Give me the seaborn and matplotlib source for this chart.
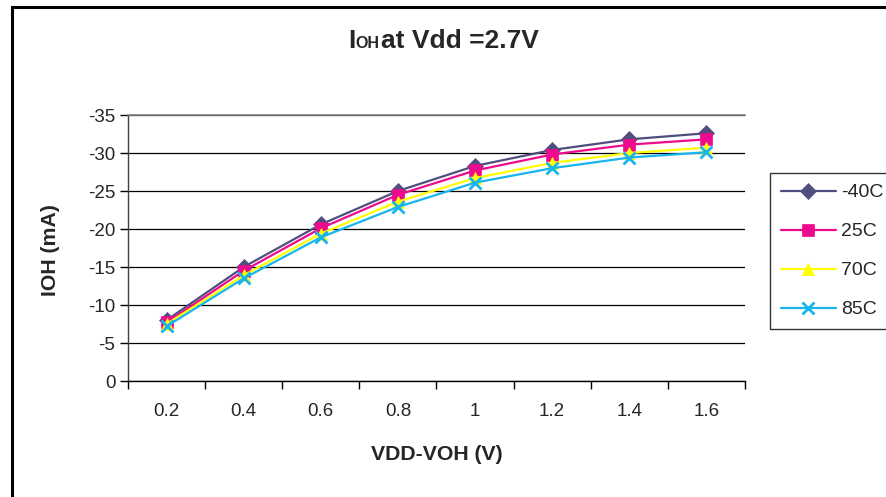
import matplotlib
matplotlib.use("Agg")
import matplotlib.pyplot as plt
from matplotlib.patches import Rectangle
from matplotlib.ticker import FixedLocator
import seaborn as sns
import pandas as pd

# ---- data ----
categories = ["0.2", "0.4", "0.6", "0.8", "1", "1.2", "1.4", "1.6"]
series_names = ["-40C", "25C", "70C", "85C"]
ioh_m40 = [-8.0, -15.0, -20.6, -25.0, -28.3, -30.4, -31.8, -32.6]
ioh_25 = [-7.7, -14.5, -20.1, -24.5, -27.7, -29.8, -31.1, -31.8]
ioh_70 = [-7.5, -13.9, -19.4, -23.6, -26.7, -28.7, -30.0, -30.7]
ioh_85 = [-7.2, -13.5, -18.9, -22.9, -26.1, -28.0, -29.4, -30.1]
y_ticks = [0, -5, -10, -15, -20, -25, -30, -35]

colors = ["#4F4F7F", "#EE0A8C", "#FFFF00", "#18B4EE"]
markers = ["D", "s", "^", "x"]

sns.set_style("white")
plt.rcParams["font.family"] = ["Liberation Sans", "DejaVu Sans"]

W, H = 886, 497
fig = plt.figure(figsize=(W / 100, H / 100), dpi=100)
ax = fig.add_axes([128 / W, 1 - 381 / H, (745 - 128) / W, (381 - 115) / H])

positions = list(range(len(categories)))
for name, vals, c, m in zip(series_names, [ioh_m40, ioh_25, ioh_70, ioh_85], colors, markers):
    df = pd.DataFrame({"pos": positions, "ioh": vals})
    sns.lineplot(data=df, x="pos", y="ioh", color=c, marker=m, linewidth=1.6,
                 markersize=9 if m == "x" else 8.5,
                 markeredgecolor=c, markerfacecolor=c,
                 markeredgewidth=2.0 if m == "x" else 0.5, ax=ax, label=name, legend=False)

ax.set_xlim(-0.5, len(categories) - 0.5)
ax.set_ylim(0, -35)
ax.set_xticks(positions)
ax.set_xticklabels(categories)
ax.xaxis.set_minor_locator(FixedLocator([i - 0.5 for i in range(len(categories) + 1)]))
ax.tick_params(axis="x", which="major", length=0, pad=16, labelsize=13.5)
ax.tick_params(axis="x", which="minor", length=6, width=1, direction="out", color="black", bottom=True)
ax.set_yticks(y_ticks)
ax.set_yticklabels([str(v) for v in y_ticks])
ax.tick_params(axis="y", length=6, width=1, direction="out", color="black", left=True, pad=3, labelsize=13.5)
ax.yaxis.grid(True, color="black", linewidth=0.9)
ax.set_axisbelow(True)
ax.spines["right"].set_visible(False)
ax.spines["top"].set_color("#808080")
ax.spines["top"].set_linewidth(1.2)
ax.spines["left"].set_color("#404040")
ax.spines["bottom"].set_color("black")
ax.spines["left"].set_linewidth(1)
ax.spines["bottom"].set_linewidth(1)
ax.set_xlabel("")
ax.set_ylabel("")

# axis labels
fig.text(50 / W, 1 - 250 / H, "IOH (mA)", rotation=90, ha="center", va="center",
         fontsize=15.3, fontweight="bold")
fig.text(437 / W, 1 - 454 / H, "VDD-VOH (V)", ha="center", va="center",
         fontsize=15.3, fontweight="bold")

# title
base_y = 1 - 48 / H
fig.text(348 / W, base_y, "I", ha="left", va="baseline", fontsize=19, fontweight="bold")
fig.text(355 / W, base_y, "OH", ha="left", va="baseline", fontsize=11.5, fontweight="bold")
fig.text(381 / W, base_y, "at Vdd =2.7V", ha="left", va="baseline", fontsize=19, fontweight="bold")

# legend
leg = fig.legend(ax.lines[:4], series_names, loc="upper left",
                 bbox_to_anchor=(770 / W, 1 - 173 / H), frameon=True, fancybox=False,
                 fontsize=14, handlelength=2.85, handletextpad=0.25, labelspacing=1.1,
                 borderpad=0.55, borderaxespad=0)
leg.get_frame().set_edgecolor("black")
leg.get_frame().set_linewidth(1)

# outer chart border (cropped at right/bottom)
fig.patches.append(Rectangle((12 / W, -0.1), 2.0, 1 - 7 / H + 0.1,
                             transform=fig.transFigure, fill=False,
                             edgecolor="black", linewidth=2.2))

fig.savefig("out.png", dpi=100)
